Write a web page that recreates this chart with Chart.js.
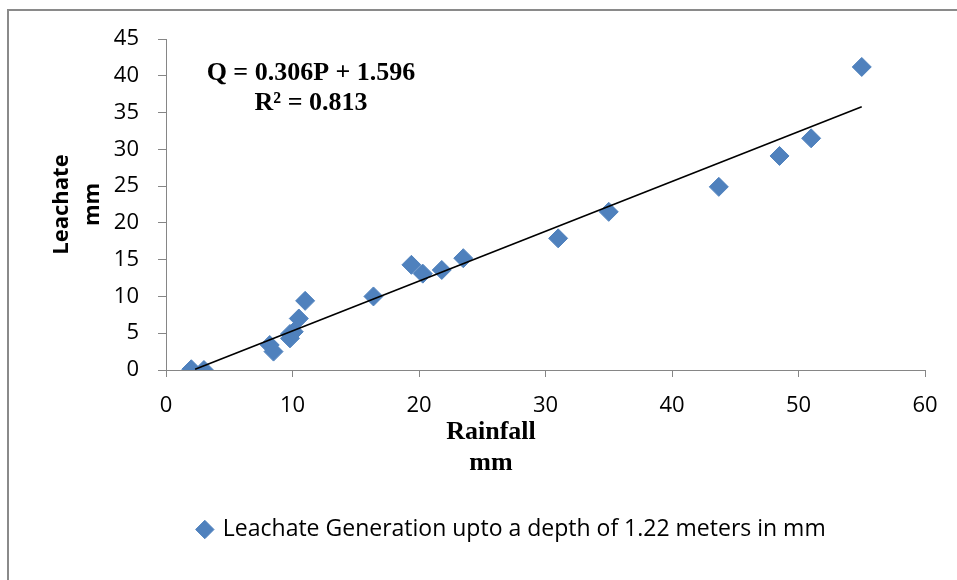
<!DOCTYPE html>
<html>
<head>
<meta charset="utf-8">
<title>Rainfall vs Leachate</title>
<script src="https://cdn.jsdelivr.net/npm/chart.js"></script>
<style>
  body { margin: 0; background: #fff; }
  #frame {
    position: absolute; left: 7px; top: 9px;
    width: 948px; height: 569px;
    border-left: 2px solid #8a8a8a; border-top: 2px solid #8a8a8a;
  }
</style>
</head>
<body>
<div id="frame"><canvas id="chart" width="948" height="569"></canvas></div>
<script>
// rainfall (mm) and leachate (mm)
const rainfall = [2.0, 3.0, 8.2, 8.5, 9.8, 9.8, 10.1, 10.5, 11.0, 16.4, 19.4, 20.3, 21.8, 23.5, 31.0, 35.0, 43.7, 48.5, 51.0, 55.0];
const leachate = [0.1, 0.0, 3.4, 2.5, 4.3, 4.9, 5.2, 7.0, 9.4, 10.0, 14.3, 13.1, 13.6, 15.2, 17.9, 21.5, 24.9, 29.1, 31.5, 41.2];
// trend line ends as drawn in the picture
const trendX = [2.3, 55.0];
const trendY = [0.1, 35.8];
const xTicks = [0, 10, 20, 30, 40, 50, 60];
const yTicks = [0, 5, 10, 15, 20, 25, 30, 35, 40, 45];
const seriesName = 'Leachate Generation upto a depth of 1.22 meters in mm';
const equation = ['Q = 0.306P + 1.596', 'R\u00b2 = 0.813'];
const xTitle = ['Rainfall', 'mm'];
const yTitle = ['Leachate', 'mm'];

const blue = '#4f81bd';
const axisGrey = '#868686';

const points = rainfall.map((r, i) => ({ x: r, y: leachate[i] }));
const trend = trendX.map((t, i) => ({ x: t, y: trendY[i] }));

// equation and x title drawn as text
const textPlugin = {
  id: 'texts',
  afterDraw(chart) {
    const ctx = chart.ctx;
    ctx.save();
    ctx.fillStyle = '#000';
    ctx.textAlign = 'center';
    ctx.textBaseline = 'middle';
    ctx.font = 'bold 26px "Liberation Serif"';
    ctx.fillText(equation[0], 302, 62);
    ctx.fillText(equation[1], 302, 92);
    ctx.fillText(xTitle[0], 482, 421);
    ctx.fillText(xTitle[1], 482, 452);
    ctx.restore();
  }
};

// nudge legend to the right like the original
const legendShift = {
  id: 'legendShift',
  afterLayout(chart) {
    chart.legend.left += 45;
    chart.legend.right += 45;
  }
};

new Chart(document.getElementById('chart'), {
  type: 'scatter',
  data: {
    datasets: [{
      label: seriesName,
      data: points,
      pointStyle: 'rectRot',
      pointRadius: 9.5,
      pointHoverRadius: 9.5,
      backgroundColor: blue,
      borderColor: blue,
      borderWidth: 1,
      order: 1
    }, {
      type: 'line',
      label: 'trend',
      data: trend,
      borderColor: '#000',
      borderWidth: 1.6,
      pointRadius: 0,
      fill: false,
      order: 0
    }]
  },
  options: {
    responsive: false,
    animation: false,
    layout: { padding: { top: 28, right: 32, left: 0, bottom: 29 } },
    plugins: {
      legend: {
        position: 'bottom',
        labels: {
          usePointStyle: true,
          boxHeight: 13,
          boxWidth: 13,
          color: '#000',
          font: { family: '"Open Sans"', size: 23 },
          filter: item => item.datasetIndex === 0
        }
      },
      tooltip: { enabled: false }
    },
    scales: {
      x: {
        type: 'linear',
        min: 0, max: 60,
        afterBuildTicks: s => { s.ticks = xTicks.map(v => ({ value: v })); },
        afterFit: s => { s.height = 138; s.paddingLeft = 0; s.paddingRight = 0; },
        border: { color: axisGrey, width: 1 },
        grid: { drawOnChartArea: false, color: axisGrey, tickLength: 7 },
        ticks: { color: '#000', padding: 16, maxRotation: 0, font: { family: '"Open Sans"', size: 22 } }
      },
      y: {
        type: 'linear',
        min: 0, max: 45,
        afterBuildTicks: s => { s.ticks = yTicks.map(v => ({ value: v })); },
        afterFit: s => { s.width = 157; s.paddingTop = 0; s.paddingBottom = 0; },
        border: { color: axisGrey, width: 1 },
        grid: { drawOnChartArea: false, color: axisGrey, tickLength: 8 },
        ticks: { color: '#000', padding: 19, font: { family: '"Open Sans"', size: 22 } },
        title: {
          display: true,
          text: yTitle,
          color: '#000',
          padding: { top: 37.5, bottom: 0 },
          font: { family: '"Open Sans"', size: 22, weight: 'bold', lineHeight: 31 / 22 }
        }
      }
    }
  },
  plugins: [textPlugin, legendShift]
});
</script>
</body>
</html>
